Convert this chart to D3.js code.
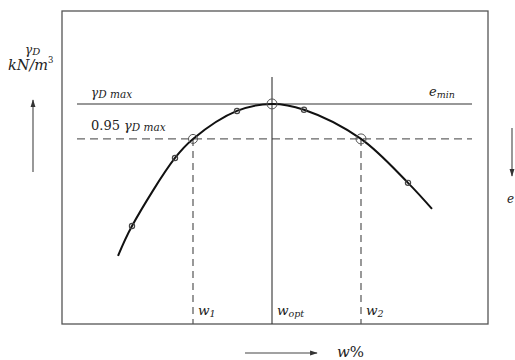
<!DOCTYPE html>
<html><head><meta charset="utf-8">
<script src="https://cdn.jsdelivr.net/npm/d3@7"></script>
<style>
body{margin:0;background:#fff}
svg{display:block}
text{font-family:"DejaVu Serif","Liberation Serif",serif;fill:#222}
</style>
</head><body>
<svg id="chart" width="515" height="360"></svg>
<script>
// Proctor test: moisture content (w %) and dry unit weight (kN/m3) of the samples
const testW = [8.0, 10.15, 13.25, 16.6, 21.8];
const testG = [14.86, 16.61, 17.82, 17.85, 15.97];
// Knots of the fitted compaction curve
const curveW = [7.3, 8.0, 10.15, 11.05, 13.25, 15.0, 16.6, 19.45, 21.8, 23.0];
const curveG = [14.09, 14.86, 16.61, 17.1, 17.82, 18.0, 17.85, 17.1, 15.97, 15.3];
// Characteristic values
const gammaMax = 18.0;
const ratio = 0.95;
const wKeys = [11.05, 15.0, 19.45];          // w1, wopt, w2
const wKeyNames = [["w","1"], ["w","opt"], ["w","2"]];
const wDomain = [4.5, 25.8];
const gDomain = [12.34, 20.39];

const svg = d3.select("#chart");
const frame = {left: 62, right: 488, top: 11, bottom: 324};

const x = d3.scaleLinear().domain(wDomain).range([frame.left, frame.right]);
const y = d3.scaleLinear().domain(gDomain).range([frame.bottom, frame.top]);

const g95 = ratio * gammaMax;

// Plot frame
svg.append("rect")
  .attr("x", frame.left).attr("y", frame.top)
  .attr("width", frame.right - frame.left).attr("height", frame.bottom - frame.top)
  .attr("fill", "none").attr("stroke", "#555").attr("stroke-width", 1.3);

// Horizontal reference lines: gamma_D max (solid) and 0.95 gamma_D max (dashed)
const hx0 = x(5.25), hx1 = x(25.0);
svg.append("line")
  .attr("x1", hx0).attr("x2", hx1).attr("y1", y(gammaMax)).attr("y2", y(gammaMax))
  .attr("stroke", "#333").attr("stroke-width", 1.1);
svg.append("line")
  .attr("x1", hx0).attr("x2", hx1).attr("y1", y(g95)).attr("y2", y(g95))
  .attr("stroke", "#666").attr("stroke-width", 1.4).attr("stroke-dasharray", "8,5");

// Vertical lines at w1, wopt, w2
svg.selectAll("line.wkey").data(wKeys).join("line")
  .attr("class", "wkey")
  .attr("x1", d => x(d)).attr("x2", d => x(d))
  .attr("y1", (d, i) => i === 1 ? y(gammaMax) - 27 : y(g95))
  .attr("y2", frame.bottom)
  .attr("stroke", (d, i) => i === 1 ? "#333" : "#555")
  .attr("stroke-width", (d, i) => i === 1 ? 1.1 : 1.2)
  .attr("stroke-dasharray", (d, i) => i === 1 ? null : "7,5");

// Compaction curve
const curvePts = curveW.map((w, i) => [x(w), y(curveG[i])]);
svg.append("path")
  .attr("d", d3.line().curve(d3.curveCatmullRom.alpha(0.5))(curvePts))
  .attr("fill", "none").attr("stroke", "#111").attr("stroke-width", 2);

// Test points
svg.selectAll("circle.test").data(testW).join("circle")
  .attr("class", "test")
  .attr("cx", d => x(d)).attr("cy", (d, i) => y(testG[i])).attr("r", 2.6)
  .attr("fill", "none").attr("stroke", "#444").attr("stroke-width", 1.2);

// Marked points on the curve (w1, wopt, w2)
const keyG = [g95, gammaMax, g95];
svg.selectAll("circle.key").data(wKeys).join("circle")
  .attr("class", "key")
  .attr("cx", d => x(d)).attr("cy", (d, i) => y(keyG[i]))
  .attr("r", (d, i) => i === 0 ? 4.5 : 5)
  .attr("fill", "none").attr("stroke", "#555").attr("stroke-width", 1);

// Helper for a symbol with a subscript
function subLabel(px, py, parts, size, subSize, drop) {
  const t = svg.append("text").attr("x", px).attr("y", py);
  parts.forEach(p => {
    const s = t.append("tspan").text(p.t)
      .attr("font-size", p.sub ? subSize : size)
      .attr("font-style", p.it === false ? "normal" : "italic");
    if (p.sub) s.attr("dy", drop);
  });
  return t;
}

subLabel(91, y(gammaMax) - 7, [{t: "γ"}, {t: "D max", sub: true}], 12, 10.5, 1.5);
subLabel(91, y(g95) - 9, [{t: "0.95 ", it: false}, {t: "γ"}, {t: "D max", sub: true}], 13, 10.5, 1.5);
subLabel(429, y(gammaMax) - 8, [{t: "e"}, {t: "min", sub: true}], 13, 9.5, 2);

// Labels of w1, wopt, w2
wKeys.forEach((w, i) => {
  subLabel(x(w) + 5, frame.bottom - 9,
    [{t: wKeyNames[i][0]}, {t: wKeyNames[i][1], sub: true}], 13.5, 9.5, 2);
});

// Vertical axis title and arrow
subLabel(25, 54, [{t: "γ"}, {t: "D", sub: true}], 12, 10, 1);
svg.append("text").attr("x", 8).attr("y", 70)
  .attr("font-size", 14.5).attr("font-style", "italic").text("kN/m")
  .append("tspan").attr("font-size", 8.5).attr("dy", -7).attr("font-style", "normal").text("3");

const defs = svg.append("defs");
defs.append("marker").attr("id", "head").attr("viewBox", "0 0 10 10")
  .attr("refX", 9).attr("refY", 5).attr("markerWidth", 7).attr("markerHeight", 7)
  .attr("orient", "auto")
  .append("path").attr("d", "M0,1.8 L10,5 L0,8.2 Z").attr("fill", "#333");

svg.append("line").attr("x1", 33).attr("x2", 33).attr("y1", 172).attr("y2", 100)
  .attr("stroke", "#444").attr("stroke-width", 1.1).attr("marker-end", "url(#head)");

// Horizontal axis title and arrow
svg.append("line").attr("x1", 245).attr("x2", 317).attr("y1", 353).attr("y2", 353)
  .attr("stroke", "#444").attr("stroke-width", 1.1).attr("marker-end", "url(#head)");
svg.append("text").attr("x", 337).attr("y", 357).attr("font-size", 15)
  .text("w").attr("font-style", "italic")
  .append("tspan").attr("font-style", "normal").text("%");

// Void ratio axis arrow on the right
svg.append("line").attr("x1", 512).attr("x2", 512).attr("y1", 128).attr("y2", 176)
  .attr("stroke", "#444").attr("stroke-width", 1.1).attr("marker-end", "url(#head)");
svg.append("text").attr("x", 514).attr("y", 203).attr("font-size", 12)
  .attr("text-anchor", "end").attr("font-style", "italic").text("e");
</script>
</body></html>
